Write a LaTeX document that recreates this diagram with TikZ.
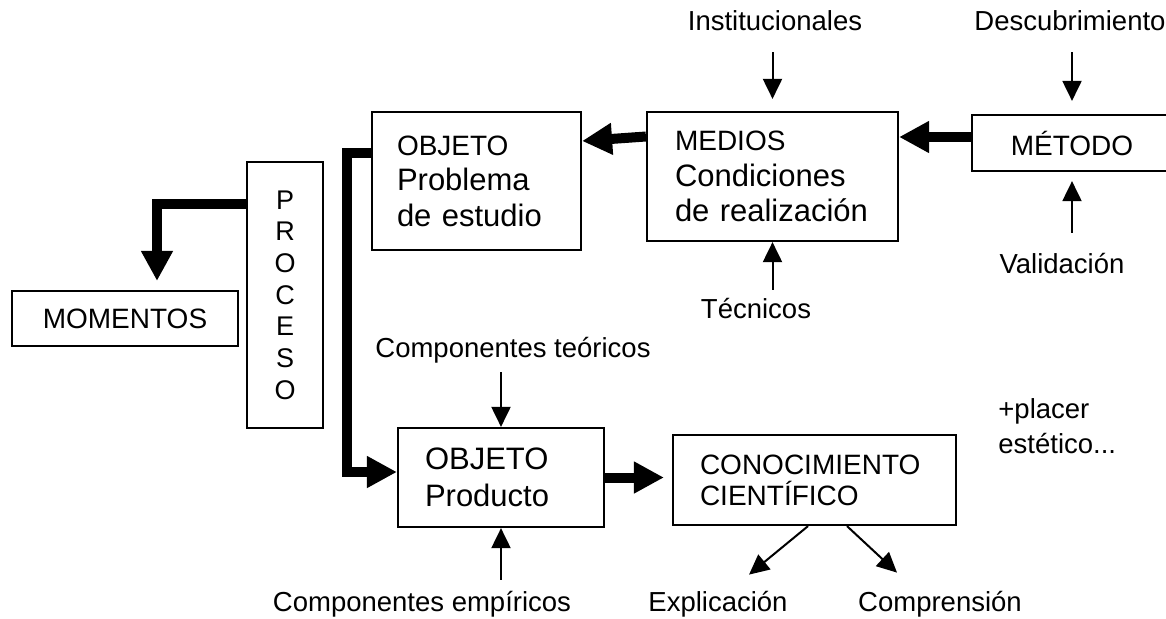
\documentclass[tikz,border=0pt]{standalone}
\usepackage{fontspec}
\setmainfont{Liberation Sans}
\usepackage{tikz}
\usetikzlibrary{arrows.meta,positioning}

\begin{document}
\begin{tikzpicture}[
    x=0.5pt, y=-0.5pt,
    box/.style={draw, line width=1.1pt, inner sep=0pt, align=left,
        font=\fontsize{15.5}{17.75}\selectfont},
    lab/.style={inner sep=0pt, anchor=base, text height=10.5pt, text depth=3pt,
        font=\fontsize{13.75}{17.5}\selectfont},
    feed/.style={line width=1pt, -{Triangle[length=10pt,width=9.5pt]}},
    bold/.style={line width=5pt, -{Triangle[length=15pt,width=15pt]}}
    ]
                \useasboundingbox (0,0) rectangle (1166,618);

                % cajas
                \node[box, minimum width=104.5pt, minimum height=69pt, text width=79.5pt]
                    (obj) at (476.5,181)
                    {{\fontsize{14}{17.75}\selectfont OBJETO}\\Problema\\de estudio};
                \node[box, minimum width=125.5pt, minimum height=64.5pt, text width=97.5pt]
                    (med) at (772.5,176.5)
                    {{\fontsize{14}{17.75}\selectfont MEDIOS}\\Condiciones\\de realización};
                \node[box, minimum width=100pt, minimum height=28pt, align=center,
                    font=\fontsize{14}{17}\selectfont]
                    (met) at (1072,143) {MÉTODO};
                \node[box, minimum width=38pt, minimum height=133pt, align=center,
                    font=\fontsize{13.5}{15.85}\selectfont]
                    (pro) at (285,295) {P\\R\\O\\C\\E\\S\\O};
                \node[box, minimum width=113pt, minimum height=27.5pt, align=center,
                    font=\fontsize{14}{17}\selectfont]
                    (mom) at (125,318.5) {MOMENTOS};
                \node[box, minimum width=103pt, minimum height=49.5pt, text width=76pt,
                    font=\fontsize{15.5}{18.5}\selectfont]
                    (prod) at (501,477.5) {OBJETO\\Producto};
                \node[box, minimum width=141.5pt, minimum height=45pt, text width=114.5pt,
                    font=\fontsize{14}{15.5}\selectfont]
                    (con) at (814.5,480) {CONOCIMIENTO\\CIENTÍFICO};

                % textos
                \node[lab] (inst) at (775,30) {Institucionales};
                \node[lab] (desc) at (1070,30) {Descubrimiento};
                \node[lab] (val) at (1062,273) {Validación};
                \node[lab] (tec) at (756,318) {Técnicos};
                \node[lab] (teo) at (513,357) {Componentes teóricos};
                \node[lab] (emp) at (422,611) {Componentes empíricos};
                \node[lab] (exp) at (718,611) {Explicación};
                \node[lab] (comp) at (940,611) {Comprensión};
                \node[inner sep=0pt, anchor=base west, align=left,
                    font=\fontsize{13.75}{17.5}\selectfont]
                    (pla) at (998,453) {+placer\\estético...};

                % flechas finas
                \draw[
                    feed,
                    shorten <=8pt,
                    shorten >=6pt
                ] (inst.south -| med.north) to (med.north);

                \draw[
                    feed,
                    shorten <=8pt,
                    shorten >=6.5pt
                ] (desc.south -| met.north) to (met.north);

                \draw[
                    feed,
                    shorten <=9.5pt,
                    shorten >=4.5pt
                ] (val.north -| met.south) to (met.south);

                \draw[
                    feed,
                    shorten <=3.5pt
                ] (tec.north -| med.south) to (med.south);

                \draw[
                    feed,
                    shorten <=4.5pt
                ] (teo.south -| prod.north) to (prod.north);

                \draw[
                    feed,
                    shorten <=5pt
                ] (emp.north -| prod.south) to (prod.south);

                \draw[
                    feed
                ] ([xshift=-3.25pt]con.south) to ([xshift=15.5pt,yshift=7.5pt]exp.north);

                \draw[
                    feed
                ] ([xshift=16.25pt]con.south) to ([xshift=-21.5pt,yshift=8.5pt]comp.north);

                % flechas gruesas
                \draw[
                    bold
                ] ([yshift=3pt]met.west) to ([yshift=19.75pt]med.east);

                \draw[
                    bold
                ] ([yshift=20pt]med.west) to ([yshift=20pt]obj.east);

                \draw[
                    bold,
                    shorten >=4.5pt
                ] ([yshift=45.5pt]pro.west) -| ([xshift=16pt]mom.north);

                \draw[
                    bold
                ] ([yshift=14pt]obj.west) -- ++(-24,0) |- ([yshift=2.75pt]prod.west);

                \draw[
                    bold,
                    shorten >=4pt
                ] (prod.east) to (prod.east -| con.west);

\end{tikzpicture}
\end{document}
